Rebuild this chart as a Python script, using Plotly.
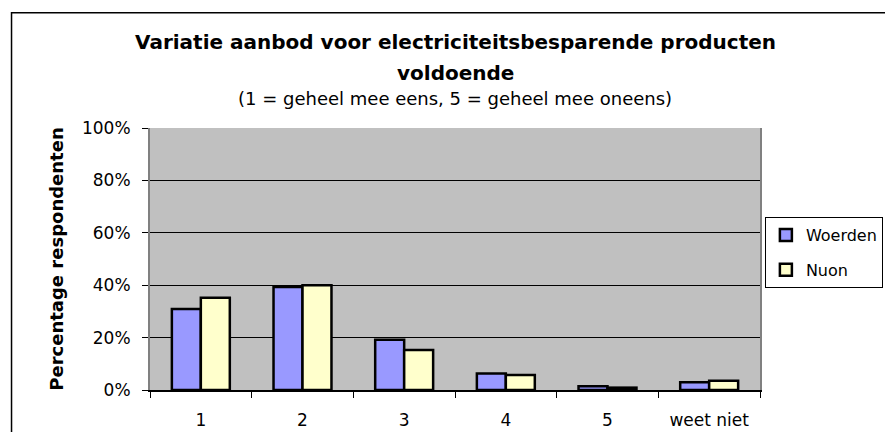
import plotly.graph_objects as go

categories = ["1", "2", "3", "4", "5", "weet niet"]
woerden = [30.9, 39.3, 19.2, 6.3, 1.4, 3.0]
nuon = [35.2, 40.0, 15.3, 5.7, 0.9, 3.5]

FONT = "DejaVu Sans, Arial, sans-serif"

fig = go.Figure()
fig.add_trace(go.Bar(
    x=categories, y=woerden, name="Woerden", legendgroup="w",
    marker=dict(color="#9999FF", line=dict(color="black", width=2.5)),
))
fig.add_trace(go.Bar(
    x=categories, y=nuon, name="Nuon", legendgroup="n",
    marker=dict(color="#FFFFCC", line=dict(color="black", width=2.5)),
))

# page body has an 8px margin, so the figure is 8px smaller than the window
fig.update_layout(
    width=885, height=424,
    margin=dict(l=142, r=133, t=120, b=42, autoexpand=False),
    paper_bgcolor="white",
    plot_bgcolor="#C0C0C0",
    barmode="group",
    bargap=0.43,
    bargroupgap=0,
    font=dict(family=FONT, size=17, color="black"),
    showlegend=True,
    legend=dict(
        x=1.008, y=0.66, xanchor="left", yanchor="top",
        bordercolor="black", borderwidth=1, bgcolor="white",
        font=dict(size=16), itemwidth=30, tracegroupgap=11,
    ),
)

# chart titles
fig.add_annotation(
    text="<b>Variatie aanbod voor electriciteitsbesparende producten</b>",
    xref="paper", yref="paper", x=0.5, y=1.328, showarrow=False,
    font=dict(size=20), yanchor="middle",
)
fig.add_annotation(
    text="<b>voldoende</b>",
    xref="paper", yref="paper", x=0.5, y=1.21, showarrow=False,
    font=dict(size=20), yanchor="middle",
)
fig.add_annotation(
    text="(1 = geheel mee eens, 5 = geheel mee oneens)",
    xref="paper", yref="paper", x=0.5, y=1.113, showarrow=False,
    font=dict(size=18), yanchor="middle",
)

# outer chart border
fig.add_shape(
    type="rect", xref="paper", yref="paper",
    x0=-0.227, x1=1.216, y0=-0.2, y1=1.44,
    line=dict(color="black", width=1.5), fillcolor="rgba(0,0,0,0)",
)

fig.update_xaxes(
    showline=True, linecolor="black", linewidth=1.5,
    ticks="outside", ticklen=6, tickcolor="black",
    tickson="boundaries", showgrid=False,
    ticklabelstandoff=14, automargin=False,
)
fig.update_yaxes(
    range=[0, 100], dtick=20, ticksuffix="%",
    showline=True, linecolor="#808080", linewidth=2, mirror=True,
    ticks="outside", ticklen=6, tickcolor="black",
    ticklabelstandoff=8, automargin=False,
    showgrid=True, gridcolor="black", gridwidth=1,
    zeroline=False,
    title=dict(text="<b>Percentage respondenten</b>", font=dict(size=18), standoff=14),
)

fig.write_html("out.html")
